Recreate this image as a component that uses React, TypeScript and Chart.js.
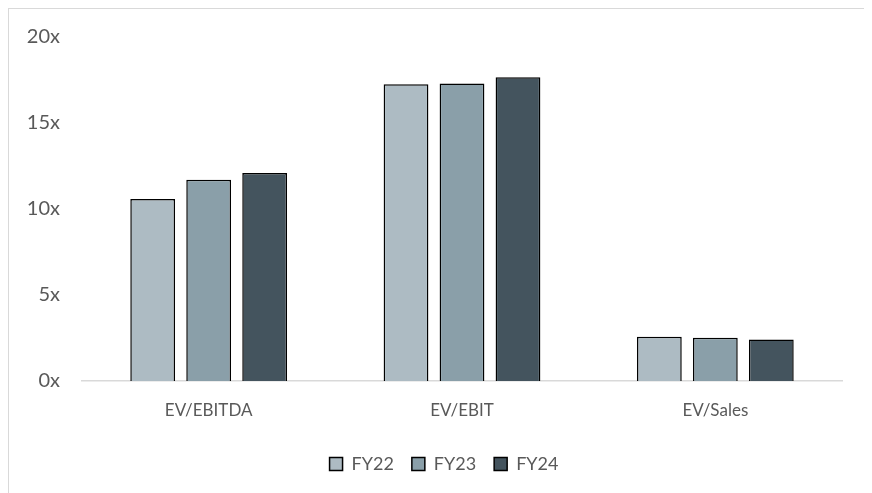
import React, { useEffect, useRef } from "react";
import { Chart, registerables } from "chart.js";

Chart.register(...registerables);

const categories = ["EV/EBITDA", "EV/EBIT", "EV/Sales"];
const seriesNames = ["FY22", "FY23", "FY24"];
const fy22 = [10.58, 17.25, 2.57];
const fy23 = [11.7, 17.3, 2.52];
const fy24 = [12.1, 17.66, 2.41];
const colors = ["#adbbc3", "#8a9fa9", "#44545e"];
const yTicks = [0, 5, 10, 15, 20];

const FONT = "Lato, 'Liberation Sans', sans-serif";

export default function App() {
  const ref = useRef<HTMLCanvasElement>(null);
  useEffect(() => {
    if (!ref.current) return;
    const values = [fy22, fy23, fy24];
    const chart = new Chart(ref.current, {
      type: "bar",
      data: {
        labels: categories,
        datasets: seriesNames.map((n, i) => ({
          label: n,
          data: values[i],
          backgroundColor: colors[i],
          borderColor: "#000000",
          borderWidth: 1.5,
          categoryPercentage: 0.663,
          barPercentage: 0.8,
        })),
      },
      options: {
        animation: false,
        responsive: false,
        maintainAspectRatio: false,
        layout: { padding: { top: 28, right: 0, left: 10, bottom: 18 } },
        plugins: {
          tooltip: { enabled: false },
          legend: {
            position: "bottom",
            labels: {
              boxWidth: 13,
              boxHeight: 13,
              color: "#595959",
              font: { family: FONT, size: 18 },
              padding: 18,
            },
          },
        },
        scales: {
          x: {
            grid: { display: false, drawTicks: false },
            border: { display: true, color: "#d9d9d9", width: 1.5 },
            ticks: { color: "#595959", font: { family: FONT, size: 17 }, padding: 19 },
            afterFit: (s: any) => {
              s.height = 56;
            },
          },
          y: {
            min: 0,
            max: 20,
            afterBuildTicks: (s: any) => {
              s.ticks = yTicks.map((v) => ({ value: v }));
            },
            grid: { display: false, drawTicks: false },
            border: { display: false },
            ticks: {
              color: "#595959",
              font: { family: FONT, size: 20 },
              padding: 22,
              callback: (v: any) => v + "x",
            },
            afterFit: (s: any) => {
              s.width = 63;
              s.paddingTop = 0;
              s.paddingBottom = 0;
            },
          },
          ySpacer: {
            position: "right",
            min: 0,
            max: 20,
            grid: { display: false, drawTicks: false },
            border: { display: false },
            ticks: { display: false },
            afterFit: (s: any) => {
              s.width = 27;
              s.paddingTop = 0;
              s.paddingBottom = 0;
            },
          },
        },
      },
    });
    return () => chart.destroy();
  }, []);
  return (
    <div style={{ width: 860, height: 492, border: "1px solid #d9d9d9", background: "#fff" }}>
      <canvas ref={ref} width={860} height={492} style={{ display: "block" }} />
    </div>
  );
}
